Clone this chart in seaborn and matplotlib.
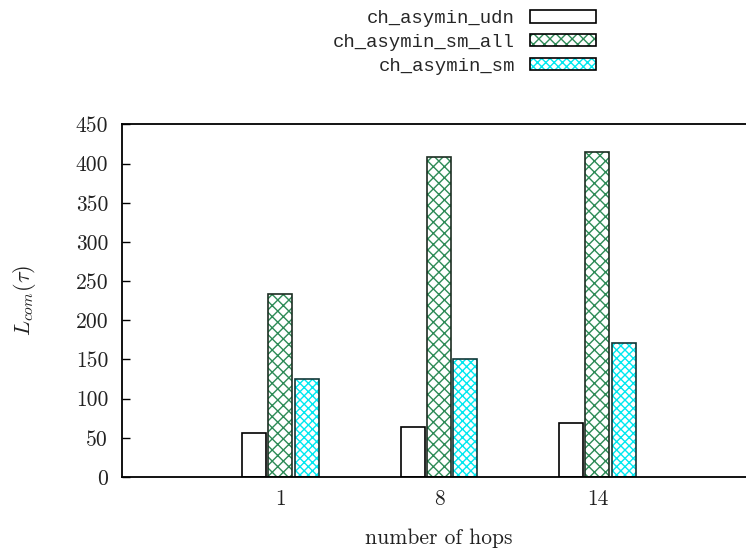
import numpy as np
import pandas as pd
import matplotlib
matplotlib.use("Agg")
import matplotlib.pyplot as plt
import seaborn as sns
from matplotlib.patches import Rectangle, Patch
from matplotlib.legend_handler import HandlerTuple

# Latency per hop count for each routing variant
hops = ["1", "8", "14"]
series = ["ch_asymin_udn", "ch_asymin_sm_all", "ch_asymin_sm"]
udn = [56, 64, 69]
sm_all = [233, 409, 415]
sm = [125, 150, 171]
y_ticks = [0, 50, 100, 150, 200, 250, 300, 350, 400, 450]

sns.set_theme(style="white")
plt.rcParams["mathtext.fontset"] = "cm"
plt.rcParams["hatch.linewidth"] = 1.0

df = pd.DataFrame({
    "hops": hops * 3,
    "series": np.repeat(series, len(hops)),
    "latency": udn + sm_all + sm,
})

# fill, hatch pattern, hatch colour, outline colour per series
styles = {
    "ch_asymin_udn": ("white", "", "white", "black"),
    "ch_asymin_sm_all": ("white", "xxx", "#2e8b57", "#1c2e22"),
    "ch_asymin_sm": ("white", "xxxx", "#00e8f0", "#103838"),
}

fig = plt.figure(figsize=(7.46, 5.52), dpi=100)
ax = fig.add_axes([0.1635, 0.1359, 0.8499, 0.6386])

sns.barplot(data=df, x="hops", y="latency", hue="series", order=hops,
            hue_order=series, palette=["white"] * 3, saturation=1,
            width=0.494, gap=0.08, errorbar=None, legend=False, ax=ax)

handles = []
for name, cont in zip(series, ax.containers):
    face, hatch, hcol, ecol = styles[name]
    for bar in cont:
        bar.set_facecolor(face)
        bar.set_hatch(hatch)
        bar.set_edgecolor(hcol)
        bar.set_linewidth(0)
        ax.add_patch(Rectangle(bar.get_xy(), bar.get_width(), bar.get_height(),
                               fill=False, edgecolor=ecol, linewidth=1.2,
                               zorder=bar.get_zorder() + 0.1))
    handles.append((Patch(facecolor=face, hatch=hatch, edgecolor=hcol, linewidth=0),
                    Patch(fill=False, edgecolor="black", linewidth=1.2)))

ax.set_xlim(-1, 3)
ax.set_ylim(0, 450)
ax.set_yticks(y_ticks)
ax.set_yticklabels([str(v) for v in y_ticks], fontfamily="cmr10", fontsize=15.5)
ax.set_xticks(range(len(hops)))
ax.set_xticklabels(hops, fontfamily="cmr10", fontsize=15.5)
ax.tick_params(axis="y", left=True, direction="in", length=6, width=1,
               pad=10, color="black")
ax.tick_params(axis="x", bottom=False, length=0, pad=9)

for s in ax.spines.values():
    s.set_color("black")
    s.set_linewidth(1.3)

ax.set_xlabel("number of hops", fontfamily="cmr10", fontsize=15.5, labelpad=14,
              color="#222222")
ax.set_ylabel(r"$L_{com}(\tau)$", fontsize=16, color="#222222")
ax.yaxis.set_label_coords(-0.132, 0.5)
for t in ax.get_xticklabels() + ax.get_yticklabels():
    t.set_color("#222222")

fig.legend(handles, series, handler_map={tuple: HandlerTuple(ndivide=1)},
           loc="upper right", bbox_to_anchor=(596 / 746, 1 - 10 / 552),
           frameon=False, markerfirst=False, borderpad=0, borderaxespad=0,
           handlelength=3.5, handleheight=0.63, handletextpad=0.8,
           labelspacing=0.36, prop={"family": "Liberation Mono", "size": 13.6})

fig.savefig("out.png", dpi=100)
